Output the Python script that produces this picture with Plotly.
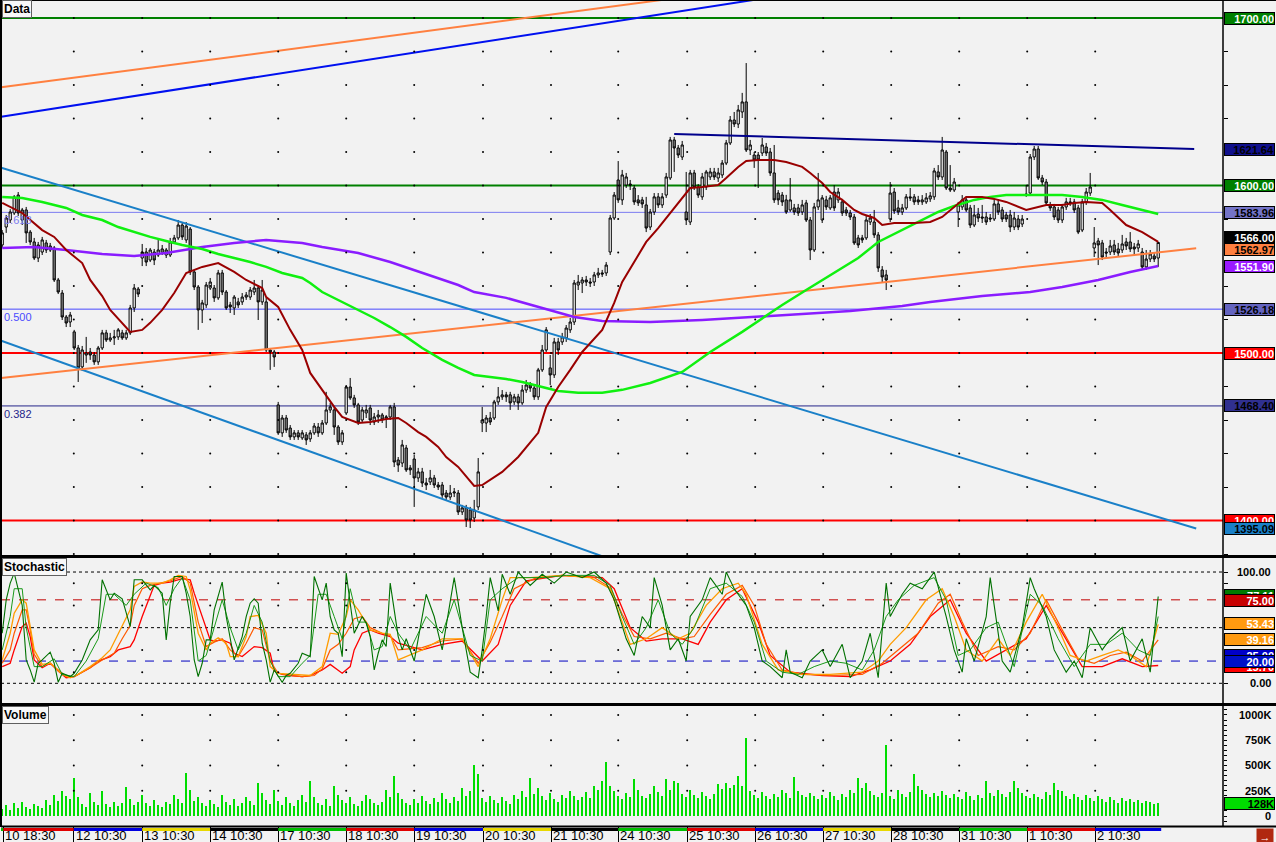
import plotly.graph_objects as go

# ---------------- price data (one bar per index) ----------------
opens = [
1564.5,1575.2,1579.4,1583.6,1594.3,1579.4,1585.4,1572.2,1566.3,1556.7,
1560.3,1565.7,1561.5,1562.7,1543.6,1535.8,1521.5,1518.5,1512.6,1503.0,
1491.7,1498.8,1500.6,1498.8,1494.7,1503.0,1512.0,1507.8,1509.0,1509.6,
1512.0,1509.0,1512.0,1526.9,1538.2,1556.7,1560.3,1555.5,1560.3,1558.5,
1560.3,1558.5,1558.5,1566.3,1568.7,1576.4,1567.5,1574.0,1548.4,1539.4,
1525.7,1528.7,1538.8,1538.8,1532.9,1547.8,1536.4,1528.7,1526.9,1530.5,
1530.5,1533.4,1533.4,1536.4,1538.8,1530.5,1530.5,1501.8,1500.6,1469.0,
1452.3,1461.2,1455.2,1449.9,1452.3,1449.3,1451.1,1448.7,1452.3,1455.8,
1452.3,1458.2,1466.0,1466.0,1455.8,1446.9,1464.2,1479.7,1473.2,1469.0,
1460.0,1464.2,1467.2,1458.8,1461.8,1463.0,1461.2,1461.8,1467.8,1436.1,
1434.3,1443.3,1431.4,1436.7,1425.4,1429.0,1422.4,1423.0,1425.4,1421.2,
1421.2,1416.4,1414.0,1416.4,1416.4,1405.1,1407.5,1406.3,1401.5,1408.1,
1458.2,1458.2,1461.2,1461.2,1470.8,1473.8,1475.0,1475.0,1470.8,1473.8,
1470.2,1477.9,1480.9,1479.1,1473.8,1489.9,1501.8,1491.1,1486.9,1506.6,
1506.6,1509.0,1513.8,1518.5,1540.6,1541.8,1543.6,1542.4,1542.4,1546.6,
1547.8,1547.8,1560.3,1580.6,1603.3,1591.4,1600.3,1600.9,1598.5,1591.4,
1591.4,1588.4,1575.2,1584.2,1593.2,1588.4,1594.3,1604.5,1627.2,1622.4,
1617.0,1584.2,1578.2,1607.5,1599.1,1593.2,1599.1,1605.1,1608.1,1604.5,
1606.3,1613.4,1625.4,1639.1,1636.7,1643.9,1649.9,1621.2,1618.2,1618.2,
1619.4,1623.0,1620.0,1607.5,1595.5,1594.3,1591.4,1585.4,1586.6,1586.6,
1584.2,1589.6,1579.4,1561.5,1587.2,1579.4,1591.4,1586.6,1596.1,1591.4,
1590.2,1585.4,1583.6,1581.2,1568.7,1568.7,1568.7,1578.2,1578.2,1570.5,
1549.6,1546.6,1580.0,1596.1,1586.6,1584.2,1586.6,1593.2,1593.2,1591.4,
1590.2,1590.2,1592.0,1593.2,1608.1,1605.1,1620.0,1598.5,1597.3,1584.2,
1587.2,1591.4,1586.6,1576.4,1583.0,1581.2,1581.2,1580.6,1580.0,1589.0,
1585.4,1582.4,1582.4,1575.2,1580.0,1577.0,1594.9,1595.5,1617.0,1621.8,
1604.5,1602.1,1588.4,1587.2,1585.4,1579.4,1587.2,1590.2,1590.2,1586.6,
1573.4,1590.2,1595.5,1562.7,1566.9,1565.7,1560.3,1560.3,1564.5,1562.1,
1561.5,1566.3,1566.3,1563.3,1562.7,1560.3,1551.4,1556.1,1557.9,1556.7]
highs = [
1573.4,1582.4,1585.9,1594.3,1596.1,1586.6,1587.2,1573.4,1568.7,1566.3,
1569.3,1567.5,1565.7,1563.9,1544.8,1537.6,1522.7,1524.5,1513.8,1504.8,
1504.2,1509.6,1503.0,1500.6,1504.2,1513.8,1513.8,1512.0,1513.8,1514.9,
1513.8,1513.8,1528.7,1541.2,1539.4,1565.1,1562.7,1562.7,1562.1,1567.5,
1564.5,1562.7,1568.7,1570.5,1579.4,1578.2,1578.2,1575.2,1549.6,1540.6,
1531.7,1542.4,1544.8,1540.6,1549.6,1549.6,1537.6,1530.5,1534.6,1532.9,
1535.8,1536.4,1539.4,1543.6,1540.6,1543.6,1532.9,1503.0,1501.8,1470.8,
1463.0,1463.0,1457.0,1454.0,1454.0,1454.0,1452.8,1454.0,1458.2,1458.2,
1460.0,1476.8,1470.2,1467.8,1457.0,1454.0,1480.9,1485.1,1475.0,1470.2,
1467.8,1469.0,1469.0,1464.2,1466.0,1464.2,1463.0,1469.0,1470.2,1437.9,
1448.1,1445.1,1433.1,1439.1,1431.4,1431.4,1425.4,1430.2,1427.2,1423.0,
1423.0,1418.2,1421.2,1419.4,1418.2,1409.3,1409.3,1408.1,1412.3,1437.3,
1467.8,1463.0,1464.8,1472.0,1479.7,1477.9,1476.8,1476.8,1475.6,1475.6,
1480.9,1483.9,1482.7,1480.9,1491.1,1504.8,1515.5,1498.8,1509.0,1509.0,
1512.0,1516.7,1520.9,1543.6,1546.6,1545.4,1546.0,1544.8,1548.4,1550.8,
1549.6,1554.3,1582.4,1596.1,1614.6,1609.3,1607.5,1603.3,1600.3,1594.3,
1593.2,1593.2,1586.0,1595.5,1595.5,1595.5,1607.5,1629.0,1629.0,1624.2,
1626.6,1608.1,1609.3,1609.3,1600.9,1607.5,1609.3,1610.5,1610.5,1610.5,
1615.2,1627.2,1641.5,1643.9,1648.1,1655.3,1673.1,1627.2,1620.0,1620.0,
1628.4,1625.4,1622.4,1624.2,1597.3,1596.1,1594.4,1604.5,1589.0,1589.0,
1591.4,1591.4,1581.2,1589.6,1607.5,1594.3,1593.8,1594.3,1600.3,1598.5,
1592.0,1587.2,1585.4,1583.0,1570.5,1570.5,1581.8,1583.0,1585.4,1572.2,
1551.9,1549.6,1602.1,1598.5,1591.4,1589.0,1594.9,1598.5,1594.9,1593.8,
1594.3,1595.5,1596.1,1610.5,1612.2,1629.0,1621.2,1612.2,1604.5,1590.2,
1594.3,1593.2,1588.4,1588.4,1586.6,1588.4,1584.2,1583.0,1591.4,1591.4,
1587.2,1584.2,1585.4,1584.2,1582.4,1582.4,1600.3,1618.8,1623.6,1623.6,
1606.3,1603.9,1590.2,1589.0,1587.2,1589.0,1592.6,1592.6,1592.0,1588.4,
1592.0,1598.5,1607.5,1575.2,1568.7,1567.5,1562.7,1567.5,1567.5,1565.7,
1570.5,1568.7,1572.2,1565.7,1567.5,1562.7,1561.5,1561.5,1560.3,1566.3]
lows = [
1562.7,1571.7,1577.6,1582.4,1581.8,1576.4,1565.7,1564.5,1555.5,1554.3,
1558.5,1559.7,1560.3,1542.4,1535.2,1519.7,1515.5,1515.5,1501.8,1482.7,
1489.3,1494.1,1495.9,1492.9,1492.9,1501.8,1506.6,1506.6,1504.8,1507.8,
1507.8,1507.8,1510.8,1524.5,1533.4,1551.9,1551.9,1554.3,1552.5,1557.3,
1558.5,1556.7,1557.3,1565.1,1567.5,1567.5,1565.7,1546.6,1537.6,1513.8,
1517.9,1526.9,1537.6,1530.5,1531.7,1534.6,1525.7,1523.9,1522.7,1526.9,
1528.7,1531.7,1531.7,1534.6,1519.7,1528.7,1500.6,1489.9,1491.7,1451.1,
1449.9,1452.3,1448.1,1448.1,1448.1,1448.1,1445.1,1446.9,1451.1,1449.9,
1451.1,1457.0,1464.2,1451.1,1445.1,1445.1,1463.0,1472.0,1467.2,1457.0,
1458.2,1461.2,1457.0,1457.0,1458.2,1458.2,1455.2,1460.0,1431.9,1429.0,
1431.9,1429.0,1427.2,1408.1,1423.0,1420.0,1418.2,1421.2,1419.4,1418.2,
1413.5,1412.3,1412.3,1414.0,1403.3,1403.3,1396.1,1395.5,1399.1,1406.3,
1452.8,1452.8,1457.0,1460.0,1469.0,1472.0,1470.8,1466.0,1469.0,1466.0,
1469.0,1476.2,1476.8,1472.0,1472.0,1488.7,1500.6,1480.9,1485.1,1498.8,
1504.8,1506.6,1512.0,1516.7,1537.6,1535.8,1540.0,1539.4,1540.0,1544.8,
1545.4,1546.0,1558.5,1579.4,1589.6,1588.4,1598.5,1597.3,1588.4,1587.8,
1586.6,1572.2,1573.4,1582.4,1586.6,1586.6,1592.6,1603.3,1608.1,1616.4,
1615.2,1576.4,1576.4,1597.3,1592.6,1591.4,1597.3,1603.3,1603.3,1602.1,
1604.5,1612.2,1624.2,1634.9,1634.3,1640.3,1620.0,1618.2,1610.5,1598.5,
1617.6,1617.6,1605.7,1589.6,1588.4,1587.8,1583.0,1584.2,1582.4,1581.8,
1582.4,1578.2,1555.5,1560.3,1585.4,1577.6,1585.4,1585.4,1584.8,1589.6,
1581.8,1581.8,1579.4,1564.5,1562.7,1565.7,1567.5,1576.4,1568.7,1548.4,
1542.4,1537.6,1578.2,1583.0,1582.4,1582.4,1585.4,1590.8,1588.4,1588.4,
1588.4,1589.0,1590.2,1591.4,1603.3,1603.3,1597.3,1596.1,1596.1,1575.2,
1585.4,1584.2,1574.6,1575.2,1578.2,1577.6,1576.4,1578.2,1578.8,1582.4,
1578.2,1578.2,1572.2,1573.4,1573.4,1575.2,1593.2,1593.8,1615.2,1603.3,
1600.3,1587.8,1584.8,1579.4,1577.6,1577.6,1585.4,1587.8,1583.6,1571.0,
1572.2,1588.4,1593.8,1557.3,1552.5,1555.5,1556.7,1558.5,1558.5,1557.9,
1559.7,1561.5,1560.3,1557.9,1560.3,1549.6,1549.6,1554.3,1554.3,1551.4]
closes = [
1571.7,1580.6,1584.2,1593.2,1583.6,1585.4,1571.7,1566.3,1556.7,1564.5,
1567.5,1561.5,1563.9,1543.6,1536.4,1521.5,1517.9,1522.7,1503.0,1491.1,
1501.8,1500.0,1498.8,1494.7,1503.0,1512.0,1507.8,1509.0,1509.6,1513.8,
1509.0,1512.0,1526.9,1538.8,1535.2,1560.3,1554.3,1561.5,1555.5,1561.5,
1562.1,1561.5,1566.3,1568.7,1576.4,1569.3,1575.8,1548.4,1539.4,1525.7,
1529.9,1540.6,1542.4,1532.9,1547.8,1536.4,1526.9,1527.5,1533.4,1528.7,
1533.4,1534.6,1537.6,1538.8,1530.5,1537.6,1501.8,1500.6,1497.6,1452.3,
1461.2,1454.0,1449.9,1452.3,1449.9,1452.3,1448.1,1452.3,1456.4,1452.3,
1458.2,1466.0,1467.8,1455.8,1446.9,1452.3,1479.7,1473.2,1469.0,1458.8,
1466.0,1466.0,1460.0,1461.8,1463.0,1460.0,1461.8,1467.8,1434.9,1433.1,
1445.1,1430.2,1430.2,1425.4,1429.0,1422.4,1421.2,1425.4,1421.2,1420.0,
1415.2,1414.0,1416.4,1417.0,1405.1,1407.5,1400.3,1400.3,1406.3,1429.0,
1460.0,1461.2,1458.8,1470.8,1473.8,1475.0,1473.8,1470.2,1473.8,1470.2,
1477.9,1480.9,1479.1,1473.8,1489.9,1501.8,1513.8,1486.9,1506.6,1501.8,
1509.6,1514.9,1518.5,1541.8,1542.4,1543.6,1542.4,1541.8,1546.6,1547.8,
1547.2,1552.5,1580.6,1594.3,1591.4,1606.3,1605.1,1600.3,1590.2,1589.6,
1589.0,1574.6,1584.2,1593.2,1588.4,1593.2,1605.1,1627.2,1622.4,1618.2,
1624.2,1579.4,1607.5,1599.1,1594.3,1605.1,1608.1,1608.1,1605.1,1607.5,
1613.4,1625.4,1639.1,1636.7,1645.1,1649.9,1621.2,1624.2,1615.2,1615.2,
1624.2,1619.4,1607.5,1591.4,1591.4,1590.2,1584.2,1591.4,1584.2,1583.6,
1588.4,1579.4,1561.5,1587.2,1591.4,1592.6,1587.2,1592.6,1586.6,1596.1,
1583.6,1583.6,1581.2,1565.7,1564.5,1567.5,1579.4,1580.6,1570.5,1550.8,
1545.4,1543.6,1595.5,1584.8,1584.2,1586.6,1593.2,1592.6,1590.2,1590.2,
1591.4,1592.6,1593.8,1608.7,1605.1,1621.2,1598.5,1597.3,1602.1,1588.4,
1591.4,1585.4,1576.4,1582.4,1580.6,1580.6,1578.2,1580.0,1589.0,1584.2,
1580.0,1580.0,1575.2,1580.6,1575.2,1580.0,1594.3,1617.0,1621.8,1604.5,
1602.1,1589.6,1586.6,1581.2,1579.4,1587.2,1590.2,1589.6,1585.4,1572.2,
1590.2,1596.1,1599.1,1565.7,1564.5,1557.3,1559.7,1563.9,1560.3,1559.7,
1565.1,1563.9,1562.1,1562.1,1565.1,1551.4,1556.1,1559.1,1556.1,1566.0]

# volume in thousands
volume_k = [
70,110,60,130,80,140,90,70,120,100,80,160,110,210,150,250,200,
170,380,190,120,90,230,140,110,250,120,90,140,100,130,290,170,110,
140,210,130,100,160,110,90,140,120,210,170,130,430,260,150,190,130,
100,160,120,90,210,140,110,170,100,130,190,150,110,330,230,160,120,
260,150,110,190,130,100,160,210,140,350,190,130,110,170,100,300,210,
160,130,190,120,100,150,210,170,130,110,140,260,190,400,230,170,130,
110,170,130,200,150,120,180,140,230,170,130,190,150,280,200,250,500,
420,180,140,200,160,130,190,150,120,210,170,250,190,380,220,280,200,
160,230,170,140,210,180,250,200,160,190,240,180,300,260,350,530,300,
250,200,170,230,190,370,260,200,180,220,300,240,200,370,260,350,330,
220,190,260,210,180,240,200,170,220,320,270,330,280,310,400,300,770,
250,210,180,240,200,170,220,190,260,230,180,390,250,210,190,230,200,
170,210,180,240,200,160,220,190,260,230,380,280,330,250,210,190,230,
700,200,170,260,220,190,240,420,300,260,220,190,230,200,250,210,180,
220,190,170,240,200,160,210,180,350,230,200,260,220,190,240,350,280,
230,200,180,220,190,170,240,210,330,260,250,200,170,220,190,160,210,
180,150,200,170,140,190,160,130,180,150,170,140,160,130,150,140,120,
128]

# moving averages (bar index, value)
ma_red_x = [0,5,10,13,16,20,22,25,27,30,32,35,37,40,43,46,50,54,58,61,65,66,69,72,75,77,80,83,85,89,92,96,99,101,104,106,109,111,114,116,118,120,122,125,129,132,134,136,139,142,145,150,153,155,158,161,164,166,169,172,175,179,181,184,186,189,193,196,200,202,205,207,210,213,215,218,220,223,228,232,235,238,241,245,248,251,255,256,259,261,265,268,271,275,277,279,281,285,289]
ma_red_y = [1589.6,1583.6,1573.4,1569.3,1561.5,1553.7,1543.6,1534.0,1525.7,1518.0,1512.6,1513.8,1518.0,1525.7,1535.8,1547.8,1551.4,1553.7,1548.4,1543.6,1538.8,1533.4,1527.5,1513.8,1501.8,1488.1,1477.9,1467.8,1461.8,1458.2,1458.8,1460.6,1461.2,1458.2,1452.8,1449.9,1443.9,1437.9,1432.0,1426.0,1420.6,1421.2,1424.2,1429.0,1437.9,1446.9,1452.3,1467.8,1479.7,1489.9,1500.6,1513.8,1529.9,1542.4,1554.3,1566.3,1574.6,1580.6,1590.2,1598.5,1599.1,1600.3,1604.5,1611.1,1614.6,1615.2,1615.2,1614.0,1611.1,1607.5,1601.5,1596.1,1591.4,1585.4,1583.0,1580.6,1576.4,1577.6,1577.6,1578.2,1581.2,1587.2,1593.2,1593.2,1592.0,1590.2,1586.6,1585.4,1587.2,1588.4,1588.4,1589.6,1590.2,1589.6,1585.4,1580.6,1576.4,1572.2,1566.3]
ma_green_x = [0,5,10,16,20,25,29,33,37,41,45,50,54,58,62,66,70,75,77,80,85,89,93,97,101,105,110,114,118,122,126,130,135,139,144,150,155,162,170,177,185,195,201,207,214,219,225,230,234,238,243,247,251,260,265,270,275,280,284,289]
ma_green_y = [1593.2,1592.6,1590.2,1586.6,1582.4,1579.4,1575.2,1572.2,1569.3,1566.9,1564.5,1562.1,1559.1,1556.7,1554.3,1551.4,1547.8,1544.8,1541.8,1536.4,1530.5,1525.7,1520.9,1515.5,1509.6,1503.0,1495.9,1491.1,1486.9,1485.7,1484.5,1482.7,1479.7,1477.3,1476.2,1476.2,1478.0,1482.1,1488.7,1500.6,1512.6,1528.7,1537.6,1546.6,1556.7,1566.3,1573.4,1579.4,1584.2,1587.8,1591.4,1593.2,1594.3,1594.3,1594.3,1593.2,1591.4,1588.4,1586.0,1583.0]
ma_purple_x = [0,8,16,25,33,41,50,58,66,75,80,89,97,105,114,118,126,135,143,150,162,175,190,200,212,225,232,245,257,265,274,282,289]
ma_purple_y = [1562.7,1563.3,1561.5,1559.1,1557.9,1559.7,1563.3,1565.7,1567.5,1565.7,1563.3,1559.7,1554.3,1547.8,1540.6,1536.4,1532.9,1526.9,1521.5,1519.1,1518.5,1519.7,1522.1,1523.3,1525.1,1528.1,1530.5,1534.0,1536.4,1539.4,1543.6,1548.4,1551.9]

# stochastic lines (bar index, value)
stoch_k_x = [0,1,2,3,5,6,7,8,9,10,12,13,14,15,17,18,20,22,24,25,27,28,30,31,32,33,35,37,38,40,41,42,43,45,46,47,48,49,50,51,52,53,55,56,57,58,60,61,62,63,64,65,66,67,68,70,71,72,74,75,77,78,80,81,82,83,84,85,86,87,88,90,91,92,93,94,95,96,97,99,100,
101,103,106,108,110,113,115,117,119,120,121,122,124,125,127,129,132,135,138,141,145,148,151,153,156,158,160,162,163,165,167,169,171,172,175,177,180,181,183,186,188,190,192,195,196,197,200,202,205,207,210,212,215,217,219,221,222,225,227,230,232,233,236,238,240,241,243,246,247,250,252,255,257,258,261,263,266,268,270,272,275,277,280,282,285,287,289]
stoch_k_y = [45,75,90,99,70,21,12,1,18,21,28,18,1,9,6,9,21,39,48,93,75,81,76,63,51,93,93,84,88,81,39,72,96,96,81,60,21,6,18,39,39,66,91,60,39,21,42,60,72,76,72,36,21,1,12,1,7,9,18,27,24,96,75,90,60,48,45,24,99,72,45,60,54,42,12,27,39,33,90,42,30,
40,20,80,60,30,95,50,10,5,30,60,95,65,98,80,100,88,98,90,100,95,100,90,75,40,25,60,50,95,70,30,40,20,60,75,95,80,100,85,70,50,20,15,5,30,10,5,20,30,15,35,5,20,45,5,90,60,80,90,85,95,100,60,30,10,40,20,60,95,20,10,50,95,85,60,30,10,20,5,50,30,40,50,20,40,10,78]
stoch_k2_x = [0,2,3,5,6,8,10,13,15,18,21,24,26,28,31,33,36,39,41,43,45,47,49,51,53,55,57,59,61,63,65,67,69,72,75,77,79,81,83,85,87,89,91,93,95,97,99,
102,106,110,113,117,120,122,125,129,135,141,148,152,155,158,161,164,167,170,173,177,181,185,188,191,195,199,203,207,211,215,218,221,224,228,233,236,239,242,246,249,253,257,260,264,268,272,276,280,284,287,289]
stoch_k2_y = [30,60,85,85,50,15,15,22,8,6,20,40,80,80,70,80,90,86,70,85,95,75,20,25,50,75,50,30,45,70,55,20,6,6,18,25,80,80,60,40,85,55,55,30,33,60,45,
30,60,45,75,25,20,75,85,95,95,97,97,88,60,35,50,75,45,35,50,85,90,78,55,20,10,8,15,20,18,12,30,60,75,88,95,75,25,30,50,55,15,80,70,40,15,35,35,45,30,25,60]
stoch_red_x = [0,2,3,5,6,7,8,10,12,14,16,18,22,24,27,29,32,33,35,37,38,40,42,45,47,48,50,52,53,55,57,58,60,62,63,65,67,68,70,72,75,77,80,82,85,87,88,90,92,94,97,99,
105,110,115,120,124,127,131,140,150,153,157,161,165,170,174,177,181,185,189,192,197,205,212,217,222,227,232,237,241,246,251,256,261,265,270,275,280,285,289]
stoch_red_y = [15,18,30,51,54,42,21,14,18,11,5,6,14,20,24,30,33,39,60,78,88,90,91,94,93,81,60,39,38,39,36,27,24,30,33,32,27,11,8,7,6,7,12,17,9,15,30,45,48,45,42,36,
30,35,38,20,35,70,92,97,95,85,50,38,40,40,35,55,75,85,55,25,10,7,6,12,20,35,60,75,45,20,30,40,70,45,15,15,22,15,16]
stoch_dorange_x = [0,2,3,5,6,7,8,10,12,14,16,18,22,25,28,30,32,33,35,37,40,42,45,47,49,51,53,55,57,59,61,63,65,67,69,72,75,78,80,82,84,86,88,90,92,95,97,99,
105,110,115,119,122,125,128,133,140,148,152,155,158,162,166,170,173,177,181,185,188,191,195,200,207,215,220,224,229,234,237,240,244,249,253,257,261,265,269,273,277,281,285,289]
stoch_dorange_y = [18,30,45,66,66,48,26,15,18,12,6,6,14,21,27,40,52,70,85,88,90,92,96,90,55,33,37,40,30,24,36,50,48,20,9,7,6,7,13,30,35,45,58,60,50,45,43,30,
32,38,40,18,37,60,85,94,97,95,86,62,42,40,45,40,42,62,80,88,70,35,12,8,7,8,18,30,45,72,80,55,25,33,30,45,75,48,22,18,25,28,20,39]
stoch_orange_x = [0,2,3,5,6,7,8,10,12,13,15,17,19,22,25,27,30,32,33,35,37,40,42,44,46,47,49,51,52,54,56,57,59,61,62,64,66,67,69,72,75,77,80,82,84,86,87,89,91,92,95,97,99,
105,110,115,119,122,125,127,132,140,147,152,155,157,161,165,169,172,176,180,184,186,190,194,200,207,215,219,222,226,231,235,238,241,245,249,252,256,260,264,267,271,275,279,282,286,289]
stoch_orange_y = [21,45,63,75,72,51,30,17,18,15,8,5,8,15,23,30,51,66,87,91,90,90,93,97,96,84,45,30,36,41,36,24,24,42,60,61,45,15,9,8,7,7,15,45,44,60,75,66,54,48,45,44,21,
30,40,40,15,40,75,95,95,97,95,85,55,35,40,50,40,45,70,85,90,80,35,12,8,8,10,20,35,50,75,85,60,30,20,40,25,55,80,50,25,20,25,30,25,15,53]

# x axis: day boundaries (bar index) and labels
day_ticks = [0.25,17.9,35.0,52.0,69.0,86.0,103.0,120.2,137.2,154.0,171.25,188.25,205.25,222.25,239.25,256.25,273.25]
day_labels = ["10 18:30","12 10:30","13 10:30","14 10:30","17 10:30","18 10:30","19 10:30","20 10:30",
              "21 10:30","24 10:30","25 10:30","26 10:30","27 10:30","28 10:30","31 10:30","1 10:30","2 10:30"]
session_colors = ["#e00000","#0000e0","#e8d800","#000000","#00c000"]

# drawn studies: horizontal levels, fibonacci levels, trend lines
h_levels = [1700, 1600, 1500, 1400]
h_colors = ["#008000","#008000","#ff0000","#ff0000"]
fib_levels = [1583.96, 1526.18, 1468.40]
fib_names = ["0.618","0.500","0.382"]
fib_colors = ["#7b7bf0","#4a4aff","#25258a"]
trend_x = [[-0.25,170],[-0.25,190],[-0.25,298.5],[-0.25,160],[-0.25,298.5],[168,298]]
trend_y = [[1658.6,1712.4],[1641.1,1711.6],[1610.6,1395.2],[1507.3,1370.1],[1485.1,1562.5],[1630.8,1621.8]]
trend_colors = ["#ff8040","#0010f0","#1a80c8","#1a80c8","#ff8040","#00008c"]

# right-side value tags
main_tag_vals = [1700.0,1621.64,1600.0,1583.96,1561.6,1568.8,1551.9,1526.18,1500.0,1468.40,1400.0,1395.09]
main_tag_text = ["1700.00","1621.64","1600.00","1583.96","1562.97","1566.00","1551.90","1526.18","1500.00","1468.40","1400.00","1395.09"]
main_tag_bg = ["#008000","#10108c","#008000","#7474c8","#ff8040","#000000","#9a1aff","#6464c0","#ff0000","#303090","#ff0000","#1a80c8"]
main_tag_fg = ["white","black","white","black","black","white","white","black","white","black","white","black"]
stoch_tag_vals = [79.0,74.6,53.43,39.16,25.0,15.5,20.0]
stoch_tag_text = ["77.11","75.00","53.43","39.16","25.00","15.70","20.00"]
stoch_tag_bg = ["#007a00","#c80000","#ff9a10","#ff9a10","#0000c8","#ff0000","#0010c8"]
stoch_tag_fg = ["white","white","white","white","white","white","white"]
vol_tag_vals = [124]
vol_tag_text = ["128K"]

# ---------------- geometry ----------------
W, H = 1276, 842
ML, MR, MT, MB = 1, 53, 0, 15
PH = H - MT - MB
PW = W - ML - MR
def py(px):
    return (PH - px) / PH
XR = 1 + MR / PW

fig = go.Figure()
X = list(range(len(closes)))

# trend lines
for tx, ty, tc in zip(trend_x, trend_y, trend_colors):
    fig.add_trace(go.Scatter(x=tx, y=ty, mode="lines", line=dict(color=tc, width=2),
                             xaxis="x", yaxis="y", hoverinfo="skip", showlegend=False))
# moving averages
fig.add_trace(go.Scatter(x=ma_purple_x, y=ma_purple_y, mode="lines", line=dict(color="#8a1cff", width=2.5),
                         yaxis="y", hoverinfo="skip", showlegend=False))
fig.add_trace(go.Scatter(x=ma_green_x, y=ma_green_y, mode="lines", line=dict(color="#10f010", width=2.5),
                         yaxis="y", hoverinfo="skip", showlegend=False))
fig.add_trace(go.Scatter(x=ma_red_x, y=ma_red_y, mode="lines", line=dict(color="#990000", width=2),
                         yaxis="y", hoverinfo="skip", showlegend=False))
# candles
fig.add_trace(go.Candlestick(x=X, open=opens, high=highs, low=lows, close=closes,
                             increasing=dict(line=dict(color="black", width=1), fillcolor="white"),
                             decreasing=dict(line=dict(color="black", width=1), fillcolor="#808080"),
                             whiskerwidth=0, yaxis="y", hoverinfo="skip", showlegend=False))
# stochastic
for sx, sy, sc, sw in [(stoch_red_x, stoch_red_y, "#ff0000", 1.3),
                       (stoch_dorange_x, stoch_dorange_y, "#ff5a00", 1.2),
                       (stoch_orange_x, stoch_orange_y, "#ff9c00", 1.3),
                       (stoch_k2_x, stoch_k2_y, "#1a9a1a", 1.0),
                       (stoch_k_x, stoch_k_y, "#007000", 1.1)]:
    fig.add_trace(go.Scatter(x=sx, y=sy, mode="lines", line=dict(color=sc, width=sw),
                             yaxis="y2", hoverinfo="skip", showlegend=False))
# volume
fig.add_trace(go.Bar(x=X, y=volume_k, marker=dict(color="#00dd00", line=dict(width=0)), width=0.55,
                     yaxis="y3", hoverinfo="skip", showlegend=False))

# dot grid at day boundaries
gx, gy = [], []
for t in day_ticks[1:]:
    for lv in range(1380, 1701, 20):
        gx.append(t); gy.append(lv)
fig.add_trace(go.Scatter(x=gx, y=gy, mode="markers", marker=dict(color="black", size=2), yaxis="y",
                         hoverinfo="skip", showlegend=False))
gx2, gy2 = [], []
for t in day_ticks[1:]:
    for lv in [10, 30, 70, 90]:
        gx2.append(t); gy2.append(lv)
fig.add_trace(go.Scatter(x=gx2, y=gy2, mode="markers", marker=dict(color="black", size=2), yaxis="y2",
                         hoverinfo="skip", showlegend=False))
gx3, gy3 = [], []
for t in day_ticks[1:]:
    for lv in [250, 500, 750, 1000]:
        gx3.append(t); gy3.append(lv)
fig.add_trace(go.Scatter(x=gx3, y=gy3, mode="markers", marker=dict(color="black", size=2), yaxis="y3",
                         hoverinfo="skip", showlegend=False))

shapes = []
for lv, c in zip(h_levels, h_colors):
    shapes.append(dict(type="line", xref="paper", x0=0, x1=1, yref="y", y0=lv, y1=lv,
                       line=dict(color=c, width=2), layer="below"))
for lv, c in zip(fib_levels, fib_colors):
    shapes.append(dict(type="line", xref="paper", x0=0, x1=1, yref="y", y0=lv, y1=lv,
                       line=dict(color=c, width=1), layer="below"))
# stochastic reference lines
for lv, c, d in [(100, "black", "dot"), (50, "black", "dot"), (0, "black", "dot"),
                 (75, "#c00000", "dash"), (20, "#0000c0", "dash")]:
    shapes.append(dict(type="line", xref="paper", x0=0, x1=1, yref="y2", y0=lv, y1=lv,
                       line=dict(color=c, width=1, dash=d), layer="below"))
# session strip under the x axis
edges = day_ticks + [289.75]
for k in range(len(day_ticks)):
    shapes.append(dict(type="rect", xref="x", x0=edges[k], x1=edges[k + 1], yref="paper",
                       y0=-4 / PH, y1=-1 / PH, fillcolor=session_colors[k % 5], line=dict(width=0)))
shapes.append(dict(type="rect", xref="x", x0=-0.3, x1=day_ticks[0], yref="paper",
                   y0=-4 / PH, y1=-1 / PH, fillcolor="#00c000", line=dict(width=0)))
# panel frames
for yy, w in [(1, 2), (py(556.5), 3), (py(704.5), 3), (py(826.5), 2)]:
    shapes.append(dict(type="line", xref="paper", x0=0, x1=XR, yref="paper", y0=yy, y1=yy,
                       line=dict(color="black", width=w)))
shapes.append(dict(type="line", xref="paper", x0=0, x1=0, yref="paper", y0=0, y1=1,
                   line=dict(color="black", width=2)))
shapes.append(dict(type="line", xref="paper", x0=1, x1=1, yref="paper", y0=0, y1=1,
                   line=dict(color="black", width=1.5)))

ann = []
def tag(yref, val, text, bg, fg):
    ann.append(dict(xref="paper", x=1, xanchor="left", xshift=1, yref=yref, y=val, yanchor="middle",
                    text="<b>" + text + "</b>", showarrow=False, bgcolor=bg, bordercolor="black",
                    borderwidth=1, borderpad=0, width=49, height=11, align="right",
                    font=dict(family="Liberation Sans, Arial", size=11, color=fg)))
for v, t, b, f in zip(main_tag_vals, main_tag_text, main_tag_bg, main_tag_fg):
    tag("y", v, t, b, f)
for v, t, b, f in zip(stoch_tag_vals, stoch_tag_text, stoch_tag_bg, stoch_tag_fg):
    tag("y2", v, t, b, f)
for v, t in zip(vol_tag_vals, vol_tag_text):
    tag("y3", v, t, "#00dd00", "black")

# axis value labels (right aligned)
for yref, v, t in [("y2", 100, "100.00"), ("y2", 0, "0.00"), ("y3", 1000, "1000K"), ("y3", 750, "750K"),
                   ("y3", 500, "500K"), ("y3", 250, "250K"), ("y3", 0, "0")]:
    ann.append(dict(xref="paper", x=XR, xanchor="right", xshift=-3, yref=yref, y=v, yanchor="middle",
                    text="<b>" + t + "</b>", showarrow=False,
                    font=dict(family="Liberation Sans, Arial", size=11, color="black")))

# day labels
for t, lab in zip(day_ticks, day_labels):
    ann.append(dict(xref="x", x=t, xanchor="left", xshift=0, yref="paper", y=-MB / PH, yanchor="bottom",
                    yshift=-3, text=lab, showarrow=False,
                    font=dict(family="Liberation Sans, Arial", size=13, color="black")))

# fibonacci labels
for lv, nm, c in zip(fib_levels, fib_names, fib_colors):
    ann.append(dict(xref="paper", x=0, xanchor="left", xshift=1, yref="y", y=lv, yanchor="top",
                    text=nm, showarrow=False, font=dict(family="Liberation Sans, Arial", size=11, color=c)))

# panel titles
for yy, nm in [(1, "Data"), (py(558), "Stochastic"), (py(706), "Volume")]:
    ann.append(dict(xref="paper", x=0, xanchor="left", xshift=1, yref="paper", y=yy, yanchor="top",
                    text="<b>" + nm + "</b>", showarrow=False, bgcolor="#f8f8f8", bordercolor="#606060",
                    borderwidth=1, borderpad=1, font=dict(family="Liberation Sans, Arial", size=12, color="black")))

# small button at the bottom right
ann.append(dict(xref="paper", x=XR, xanchor="right", xshift=-2, yref="paper", y=-1 / PH, yanchor="top",
                text="<b>→</b>", showarrow=False, bgcolor="#b02810", width=14, height=12,
                font=dict(size=11, color="white")))

axis_common = dict(showgrid=False, zeroline=False, showline=False, fixedrange=True)
fig.update_layout(
    width=W, height=H,
    margin=dict(l=ML, r=MR, t=MT, b=MB, pad=0),
    paper_bgcolor="#f2f2f2", plot_bgcolor="#f2f2f2",
    hovermode=False, showlegend=False, bargap=0, boxgap=0.2,
    xaxis=dict(domain=[0, 1], range=[-0.3, 305.2], anchor="y3", tickvals=day_ticks, ticks="outside",
               ticklen=15, tickwidth=1, tickcolor="black", showticklabels=False,
               rangeslider=dict(visible=False), **axis_common),
    yaxis=dict(domain=[py(555), 1], range=[1379.4, 1710.75], side="right", anchor="x",
               tick0=1380, dtick=20, ticks="outside", ticklen=4, tickcolor="black",
               showticklabels=False, **axis_common),
    yaxis2=dict(domain=[py(703), py(558)], range=[-17.7, 112.6], side="right", anchor="x",
                tickvals=[0, 10, 30, 50, 70, 90, 100], ticks="outside", ticklen=4, tickcolor="black",
                showticklabels=False, **axis_common),
    yaxis3=dict(domain=[py(826), py(706)], range=[-99, 1089], side="right", anchor="x",
                tick0=0, dtick=50, ticks="outside", ticklen=3, tickcolor="black",
                showticklabels=False, **axis_common),
    shapes=shapes, annotations=ann,
)

fig.write_html("out.html", config={"displayModeBar": False},
               post_script="document.body.style.margin='0px';document.body.style.padding='0px';"
                           "document.body.style.overflow='hidden';")
